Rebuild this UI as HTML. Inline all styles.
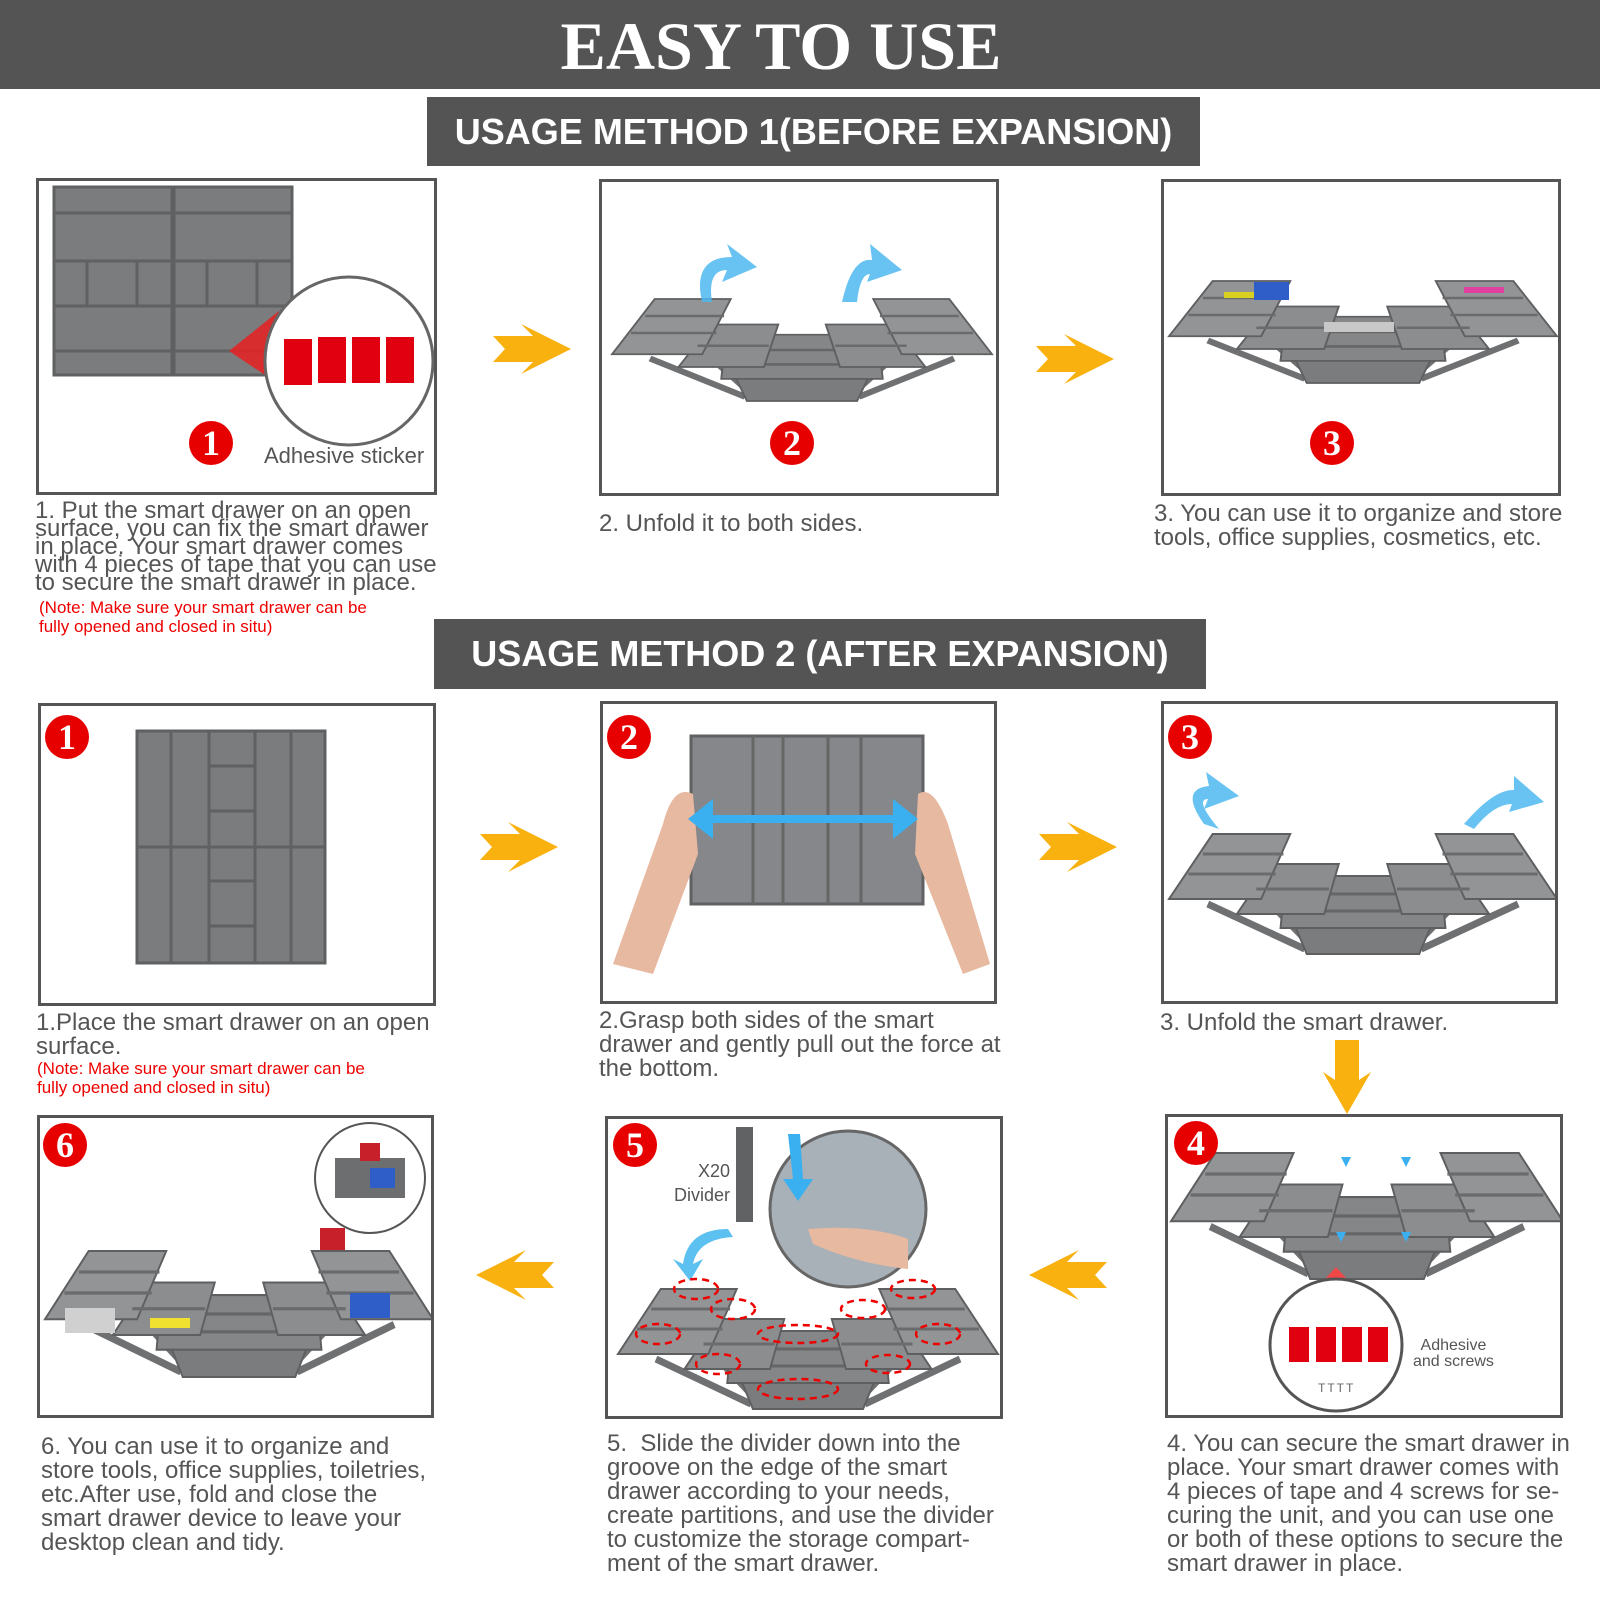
<!DOCTYPE html>
<html><head><meta charset="utf-8"><style>
*{margin:0;padding:0;box-sizing:border-box}
body{width:1600px;height:1600px;background:#fff;position:relative;overflow:hidden;font-family:"Liberation Sans",sans-serif;color:#555}
.a{position:absolute}
.bar{position:absolute;background:#545454;color:#fff;font-weight:bold;text-align:center;font-size:36px}
.box{position:absolute;border:3px solid #555;background:#fff;overflow:hidden}
.num{position:absolute;width:44px;height:44px;border-radius:50%;background:#e60000;color:#fff;font-family:"Liberation Serif",serif;font-weight:bold;font-size:36px;text-align:center;line-height:44px}
.t{position:absolute;font-size:24px;line-height:24px;color:#555;white-space:nowrap}
.tt{line-height:18px}
.note{color:#e00;font-size:17px;line-height:19px}
svg{position:absolute}
</style></head><body>
<svg width="0" height="0" style="position:absolute">
<defs>
<g id="tb">
<line x1="40" y1="90" x2="140" y2="135" stroke="#6f7072" stroke-width="7"/>
<line x1="110" y1="95" x2="150" y2="135" stroke="#6f7072" stroke-width="7"/>
<line x1="360" y1="90" x2="260" y2="135" stroke="#6f7072" stroke-width="7"/>
<line x1="290" y1="95" x2="250" y2="135" stroke="#6f7072" stroke-width="7"/>
<polygon points="130,112 270,112 258,140 142,140" fill="#7b7c7e" stroke="#5e5f61" stroke-width="2"/>
<polygon points="120,62 280,62 285,114 115,114" fill="#858688" stroke="#5e5f61" stroke-width="2"/>
<line x1="120" y1="80" x2="280" y2="80" stroke="#666" stroke-width="3"/>
<line x1="118" y1="97" x2="282" y2="97" stroke="#666" stroke-width="3"/>
<polygon points="70,100 105,50 175,50 160,100" fill="#8c8d8f" stroke="#5e5f61" stroke-width="2"/>
<polygon points="330,100 295,50 225,50 240,100" fill="#8c8d8f" stroke="#5e5f61" stroke-width="2"/>
<polygon points="0,85 45,20 125,20 95,85" fill="#939496" stroke="#5e5f61" stroke-width="2"/>
<polygon points="400,85 355,20 275,20 305,85" fill="#939496" stroke="#5e5f61" stroke-width="2"/>
<line x1="20" y1="60" x2="110" y2="60" stroke="#6a6b6d" stroke-width="3"/>
<line x1="35" y1="40" x2="118" y2="40" stroke="#6a6b6d" stroke-width="3"/>
<line x1="380" y1="60" x2="290" y2="60" stroke="#6a6b6d" stroke-width="3"/>
<line x1="365" y1="40" x2="282" y2="40" stroke="#6a6b6d" stroke-width="3"/>
<line x1="90" y1="75" x2="165" y2="75" stroke="#6a6b6d" stroke-width="3"/>
<line x1="310" y1="75" x2="235" y2="75" stroke="#6a6b6d" stroke-width="3"/>
</g>
<g id="arr"><polygon points="0,12 40,12 28,0 78,25 28,50 40,38 0,38 12,25" fill="#f9b10f"/></g>
</defs>
</svg>

<div class="bar" style="left:0;top:0;width:1600px;height:89px;font-family:'Liberation Serif',serif;font-size:68px;line-height:92px;padding-right:38px">EASY TO USE</div>
<div class="bar" style="left:427px;top:97px;width:773px;height:69px;line-height:69px">USAGE METHOD 1(BEFORE EXPANSION)</div>
<div class="bar" style="left:434px;top:619px;width:772px;height:70px;line-height:70px">USAGE METHOD 2 (AFTER EXPANSION)</div>

<div class="box" style="left:36px;top:178px;width:401px;height:317px">
<svg width="401" height="317">
<rect x="15" y="6" width="118" height="188" fill="#7b7c7e" stroke="#5f6062" stroke-width="3"/>
<rect x="135" y="6" width="118" height="188" fill="#7b7c7e" stroke="#5f6062" stroke-width="3"/>
<g stroke="#606163" stroke-width="3"><line x1="15" y1="32" x2="253" y2="32"/><line x1="15" y1="80" x2="253" y2="80"/><line x1="15" y1="125" x2="253" y2="125"/><line x1="15" y1="170" x2="253" y2="170"/>
<line x1="48" y1="80" x2="48" y2="125"/><line x1="98" y1="80" x2="98" y2="125"/><line x1="168" y1="80" x2="168" y2="125"/><line x1="218" y1="80" x2="218" y2="125"/></g>
<polygon points="190,170 240,130 250,210" fill="#e82020" opacity="0.85"/>
<circle cx="310" cy="180" r="84" fill="#fff" stroke="#666" stroke-width="3"/>
<rect x="245" y="158" width="28" height="46" fill="#e00010"/><rect x="279" y="156" width="28" height="46" fill="#e00010"/><rect x="313" y="156" width="28" height="46" fill="#e00010"/><rect x="347" y="156" width="28" height="46" fill="#e00010"/>
</svg>
<div class="a" style="left:225px;top:262px;font-size:22px;white-space:nowrap">Adhesive sticker</div>
</div>
<div class="num" style="left:189px;top:421px">1</div>
<div class="t tt" style="left:35px;top:502px">1. Put the smart drawer on an open<br>surface, you can fix the smart drawer<br>in place. Your smart drawer comes<br>with 4 pieces of tape that you can use<br>to secure the smart drawer in place.</div>
<div class="t note" style="left:39px;top:598px">(Note: Make sure your smart drawer can be<br>fully opened and closed in situ)</div>

<svg style="left:493px;top:324px" width="80" height="52"><use href="#arr"/></svg>

<div class="box" style="left:599px;top:179px;width:400px;height:317px">
<svg width="400" height="317"><use href="#tb" transform="translate(10,100) scale(0.95,0.85)"/>
<path d="M100,120 Q90,75 130,75 L125,62 L155,85 L120,100 L125,88 Q105,88 110,120Z" fill="#4fb8f0" opacity="0.85"/>
<path d="M240,120 Q250,75 270,78 L268,62 L300,88 L265,100 L268,92 Q258,92 255,120Z" fill="#4fb8f0" opacity="0.85"/>
</svg></div>
<div class="num" style="left:770px;top:421px">2</div>
<div class="t" style="left:599px;top:512px">2. Unfold it to both sides.</div>

<svg style="left:1036px;top:334px" width="80" height="52"><use href="#arr"/></svg>

<div class="box" style="left:1161px;top:179px;width:400px;height:317px">
<svg width="400" height="317"><use href="#tb" transform="translate(5,82) scale(0.97,0.85)"/>
<rect x="60" y="110" width="40" height="6" fill="#d8d020"/><rect x="90" y="100" width="35" height="18" fill="#2f5ec8"/><rect x="300" y="105" width="40" height="6" fill="#e040a0"/><rect x="160" y="140" width="70" height="10" fill="#c8c8c8"/></svg></div>
<div class="num" style="left:1310px;top:421px">3</div>
<div class="t" style="left:1154px;top:502px">3. You can use it to organize and store<br>tools, office supplies, cosmetics, etc.</div>

<div class="box" style="left:38px;top:703px;width:398px;height:303px">
<svg width="398" height="303">
<rect x="96" y="25" width="188" height="232" fill="#7b7c7e" stroke="#5f6062" stroke-width="3"/>
<g stroke="#606163" stroke-width="3"><line x1="96" y1="141" x2="284" y2="141"/><line x1="130" y1="25" x2="130" y2="257"/><line x1="168" y1="25" x2="168" y2="257"/><line x1="214" y1="25" x2="214" y2="257"/><line x1="250" y1="25" x2="250" y2="257"/>
<line x1="168" y1="60" x2="214" y2="60"/><line x1="168" y1="105" x2="214" y2="105"/><line x1="168" y1="175" x2="214" y2="175"/><line x1="168" y1="220" x2="214" y2="220"/></g></svg></div>
<div class="num" style="left:45px;top:715px">1</div>
<div class="t" style="left:36px;top:1011px">1.Place the smart drawer on an open<br>surface.</div>
<div class="t note" style="left:37px;top:1059px">(Note: Make sure your smart drawer can be<br>fully opened and closed in situ)</div>

<svg style="left:480px;top:822px" width="80" height="52"><use href="#arr"/></svg>

<div class="box" style="left:600px;top:701px;width:397px;height:303px">
<svg width="397" height="303">
<rect x="88" y="32" width="232" height="168" fill="#86878a" stroke="#606163" stroke-width="3"/>
<g stroke="#666" stroke-width="3"><line x1="150" y1="32" x2="150" y2="200"/><line x1="180" y1="32" x2="180" y2="200"/><line x1="225" y1="32" x2="225" y2="200"/><line x1="258" y1="32" x2="258" y2="200"/></g>
<path d="M10,260 L60,120 Q70,80 90,90 L95,150 L50,270Z" fill="#e6b9a0"/>
<path d="M387,260 L345,120 Q330,80 315,90 L312,150 L360,270Z" fill="#e6b9a0"/>
<line x1="100" y1="115" x2="300" y2="115" stroke="#3ab0f0" stroke-width="8"/>
<polygon points="85,115 110,95 110,135" fill="#3ab0f0"/><polygon points="315,115 290,95 290,135" fill="#3ab0f0"/>
</svg></div>
<div class="num" style="left:607px;top:715px">2</div>
<div class="t" style="left:599px;top:1009px">2.Grasp both sides of the smart<br>drawer and gently pull out the force at<br>the bottom.</div>

<svg style="left:1039px;top:822px" width="80" height="52"><use href="#arr"/></svg>

<div class="box" style="left:1161px;top:701px;width:397px;height:303px">
<svg width="397" height="303"><use href="#tb" transform="translate(5,110) scale(0.97,1.0)"/>
<path d="M40,120 Q15,85 45,82 L42,68 L75,92 L40,105 L44,95 Q30,95 55,125Z" fill="#4fb8f0" opacity="0.85"/>
<path d="M300,120 Q330,85 350,86 L350,72 L380,98 L345,108 L348,100 Q330,100 310,125Z" fill="#4fb8f0" opacity="0.85"/>
</svg></div>
<div class="num" style="left:1168px;top:715px">3</div>
<div class="t" style="left:1160px;top:1011px">3. Unfold the smart drawer.</div>

<svg style="left:1321px;top:1040px" width="52" height="74"><polygon points="14,0 38,0 38,40 50,32 26,74 2,32 14,40" fill="#f9b10f"/></svg>

<div class="box" style="left:37px;top:1115px;width:397px;height:303px">
<svg width="397" height="303"><use href="#tb" transform="translate(5,112) scale(0.97,1.05)"/>
<circle cx="330" cy="60" r="55" fill="#fff" stroke="#555" stroke-width="2"/>
<rect x="295" y="40" width="70" height="40" fill="#6d6e70"/><rect x="330" y="50" width="25" height="20" fill="#2f5ec8"/><rect x="320" y="25" width="20" height="18" fill="#c8202a"/>
<rect x="25" y="190" width="50" height="25" fill="#d0d0d0"/><rect x="310" y="175" width="40" height="25" fill="#2f5ec8"/><rect x="110" y="200" width="40" height="10" fill="#f0e030"/><rect x="280" y="110" width="25" height="22" fill="#c8202a"/>
</svg></div>
<div class="num" style="left:43px;top:1123px">6</div>
<div class="t" style="left:41px;top:1435px">6. You can use it to organize and<br>store tools, office supplies, toiletries,<br>etc.After use, fold and close the<br>smart drawer device to leave your<br>desktop clean and tidy.</div>

<svg style="left:476px;top:1250px" width="80" height="52"><use href="#arr" transform="translate(78,0) scale(-1,1)"/></svg>

<div class="box" style="left:605px;top:1116px;width:398px;height:303px">
<svg width="398" height="303"><use href="#tb" transform="translate(10,150) scale(0.95,1.0)"/>
<rect x="128" y="8" width="17" height="95" fill="#616264"/>
<circle cx="240" cy="90" r="78" fill="#a8b0b8" stroke="#666" stroke-width="3"/>
<path d="M180,15 L185,60 L175,60 L190,82 L205,60 L195,60 L192,15Z" fill="#3ab0f0"/>
<path d="M200,110 Q260,105 300,120 L300,150 Q250,145 205,125Z" fill="#e6b9a0"/>
<path d="M120,110 Q80,110 75,145 L65,140 L82,162 L95,140 L85,145 Q90,120 125,118Z" fill="#5cc0f0"/>
<g fill="none" stroke="#e00" stroke-width="2.5" stroke-dasharray="7,5"><ellipse cx="88" cy="170" rx="22" ry="10"/><ellipse cx="125" cy="190" rx="22" ry="10"/><ellipse cx="50" cy="215" rx="22" ry="10"/><ellipse cx="190" cy="215" rx="40" ry="9"/><ellipse cx="110" cy="245" rx="22" ry="10"/><ellipse cx="190" cy="270" rx="40" ry="10"/><ellipse cx="255" cy="190" rx="22" ry="9"/><ellipse cx="305" cy="170" rx="22" ry="9"/><ellipse cx="330" cy="215" rx="22" ry="10"/><ellipse cx="280" cy="245" rx="22" ry="9"/></g>
</svg>
<div class="a" style="left:50px;top:40px;font-size:18px;text-align:right;line-height:24px;width:72px">X20<br>Divider</div>
</div>
<div class="num" style="left:613px;top:1123px">5</div>
<div class="t" style="left:607px;top:1432px">5.&nbsp; Slide the divider down into the<br>groove on the edge of the smart<br>drawer according to your needs,<br>create partitions, and use the divider<br>to customize the storage compart-<br>ment of the smart drawer.</div>

<svg style="left:1029px;top:1250px" width="80" height="52"><use href="#arr" transform="translate(78,0) scale(-1,1)"/></svg>

<div class="box" style="left:1165px;top:1114px;width:398px;height:304px">
<svg width="398" height="304"><use href="#tb" transform="translate(3,15) scale(0.98,1.05)"/>
<polygon points="150,170 168,150 186,170" fill="#f04848"/>
<circle cx="168" cy="228" r="66" fill="#fff" stroke="#555" stroke-width="3"/>
<rect x="121" y="210" width="20" height="35" fill="#e00010"/><rect x="148" y="210" width="20" height="35" fill="#e00010"/><rect x="174" y="210" width="20" height="35" fill="#e00010"/><rect x="200" y="210" width="20" height="35" fill="#e00010"/>
<g fill="#3ab0f0"><polygon points="173,40 183,40 178,50"/><polygon points="233,40 243,40 238,50"/><polygon points="168,115 178,115 173,125"/><polygon points="233,115 243,115 238,125"/></g>
</svg>
<div class="a" style="left:245px;top:221px;font-size:16px;line-height:16px;text-align:center">Adhesive<br>and screws</div>
<div class="a" style="left:150px;top:264px;font-size:12px;letter-spacing:2px;color:#666">TTTT</div>
</div>
<div class="num" style="left:1174px;top:1121px">4</div>
<div class="t" style="left:1167px;top:1432px">4. You can secure the smart drawer in<br>place. Your smart drawer comes with<br>4 pieces of tape and 4 screws for se-<br>curing the unit, and you can use one<br>or both of these options to secure the<br>smart drawer in place.</div>
</body></html>
